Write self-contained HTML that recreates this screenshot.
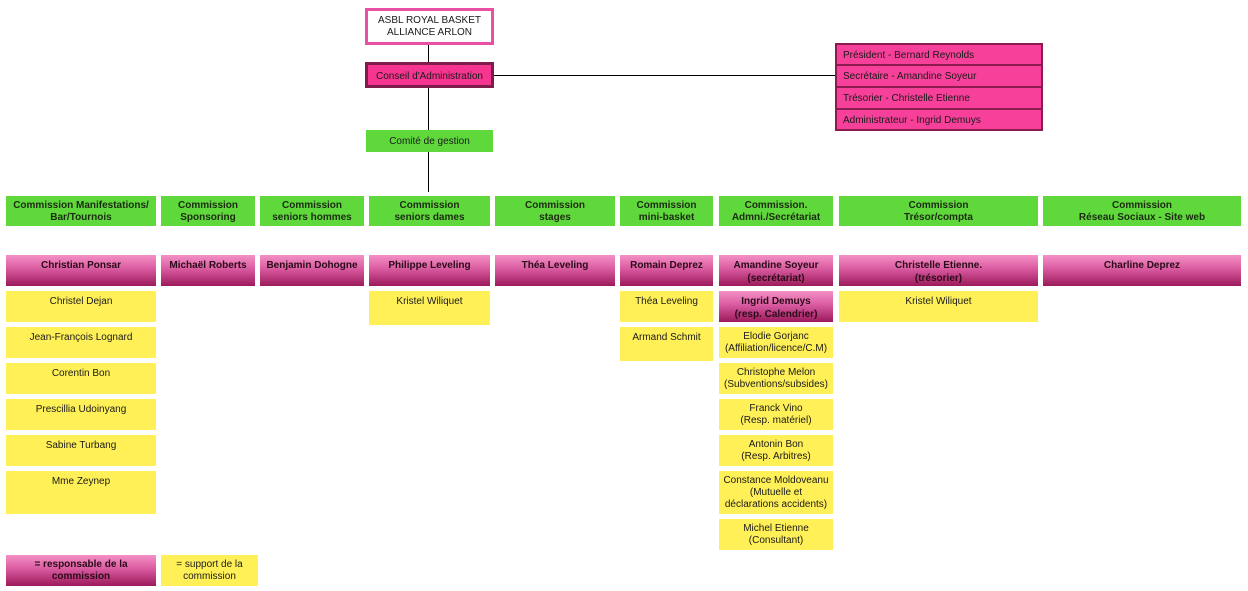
<!DOCTYPE html>
<html><head><meta charset="utf-8"><style>
*{margin:0;padding:0;box-sizing:border-box}
html,body{width:1248px;height:591px;background:#fff;overflow:hidden}
body{position:relative;font-family:"Liberation Sans",Arial,sans-serif;color:#1a1a1a}
.b{position:absolute;text-align:center;font-size:10px}
.g{background:#5fd83c;font-weight:bold;line-height:12px;display:flex;align-items:center;justify-content:center;color:#1c2a12;padding-top:1px}
.p{background:linear-gradient(#f491c5,#d95aa0 45%,#9c1a5b);font-weight:bold;line-height:13px;padding-top:4px;color:#2a0a18}
.y{background:#fff058;line-height:12px;padding-top:5px}
.ln{position:absolute;background:#000}
.bd{position:absolute;left:843px;font-size:10px;line-height:20px}
</style></head><body>
<!-- connectors -->
<div class="ln" style="left:428px;top:44px;width:1px;height:20px"></div>
<div class="ln" style="left:428px;top:88px;width:1px;height:42px"></div>
<div class="ln" style="left:428px;top:152px;width:1px;height:40px"></div>
<div class="ln" style="left:494px;top:75px;width:342px;height:1px"></div>

<div class="b" style="left:365px;top:8px;width:129px;height:37px;border:3px solid #e94fa3;background:#fff;line-height:12px;padding-top:4px">ASBL ROYAL BASKET<br>ALLIANCE ARLON</div>
<div class="b" style="left:365px;top:62px;width:129px;height:26px;border:3px solid #7e1d4c;background:#f5358f;line-height:20px;padding-top:2px">Conseil d'Administration</div>
<div class="b" style="left:366px;top:130px;width:127px;height:22px;background:#5fd83c;line-height:22px;padding-top:1px">Comité de gestion</div>

<!-- board -->
<div style="position:absolute;left:835px;top:43px;width:208px;height:88px;background:#8a1c50"></div>
<div style="position:absolute;left:837px;top:45px;width:204px;height:19px;background:#f7409a"></div>
<div style="position:absolute;left:837px;top:66px;width:204px;height:20px;background:#f7409a"></div>
<div style="position:absolute;left:837px;top:88px;width:204px;height:20px;background:#f7409a"></div>
<div style="position:absolute;left:837px;top:110px;width:204px;height:19px;background:#f7409a"></div>
<div class="bd" style="top:46px">Président - Bernard Reynolds</div>
<div class="bd" style="top:67px">Secrétaire - Amandine Soyeur</div>
<div class="bd" style="top:89px">Trésorier - Christelle Etienne</div>
<div class="bd" style="top:111px">Administrateur - Ingrid Demuys</div>

<!-- commissions -->
<div class="b g" style="left:6px;top:196px;width:150px;height:30px">Commission Manifestations/<br>Bar/Tournois</div>
<div class="b g" style="left:161px;top:196px;width:94px;height:30px">Commission<br>Sponsoring</div>
<div class="b g" style="left:260px;top:196px;width:104px;height:30px">Commission<br>seniors hommes</div>
<div class="b g" style="left:369px;top:196px;width:121px;height:30px">Commission<br>seniors dames</div>
<div class="b g" style="left:495px;top:196px;width:120px;height:30px">Commission<br>stages</div>
<div class="b g" style="left:620px;top:196px;width:93px;height:30px">Commission<br>mini-basket</div>
<div class="b g" style="left:719px;top:196px;width:114px;height:30px">Commission.<br>Admni./Secrétariat</div>
<div class="b g" style="left:839px;top:196px;width:199px;height:30px">Commission<br>Trésor/compta</div>
<div class="b g" style="left:1043px;top:196px;width:198px;height:30px">Commission<br>Réseau Sociaux - Site web</div>

<!-- responsables -->
<div class="b p" style="left:6px;top:255px;width:150px;height:31px">Christian Ponsar</div>
<div class="b p" style="left:161px;top:255px;width:94px;height:31px">Michaël Roberts</div>
<div class="b p" style="left:260px;top:255px;width:104px;height:31px">Benjamin Dohogne</div>
<div class="b p" style="left:369px;top:255px;width:121px;height:31px">Philippe Leveling</div>
<div class="b p" style="left:495px;top:255px;width:120px;height:31px">Théa Leveling</div>
<div class="b p" style="left:620px;top:255px;width:93px;height:31px">Romain Deprez</div>
<div class="b p" style="left:719px;top:255px;width:114px;height:31px">Amandine Soyeur<br>(secrétariat)</div>
<div class="b p" style="left:839px;top:255px;width:199px;height:31px">Christelle Etienne.<br>(trésorier)</div>
<div class="b p" style="left:1043px;top:255px;width:198px;height:31px">Charline Deprez</div>

<!-- col1 supports -->
<div class="b y" style="left:6px;top:291px;width:150px;height:31px">Christel Dejan</div>
<div class="b y" style="left:6px;top:327px;width:150px;height:31px">Jean-François Lognard</div>
<div class="b y" style="left:6px;top:363px;width:150px;height:31px">Corentin Bon</div>
<div class="b y" style="left:6px;top:399px;width:150px;height:31px">Prescillia Udoinyang</div>
<div class="b y" style="left:6px;top:435px;width:150px;height:31px">Sabine Turbang</div>
<div class="b y" style="left:6px;top:471px;width:150px;height:43px">Mme Zeynep</div>

<!-- col4 -->
<div class="b y" style="left:369px;top:291px;width:121px;height:34px">Kristel Wiliquet</div>

<!-- col6 -->
<div class="b y" style="left:620px;top:291px;width:93px;height:31px">Théa Leveling</div>
<div class="b y" style="left:620px;top:327px;width:93px;height:34px">Armand Schmit</div>

<!-- col7 -->
<div class="b p" style="left:719px;top:291px;width:114px;height:31px">Ingrid Demuys<br>(resp. Calendrier)</div>
<div class="b y" style="left:719px;top:327px;width:114px;height:31px;padding-top:4px">Elodie Gorjanc<br>(Affiliation/licence/C.M)</div>
<div class="b y" style="left:719px;top:363px;width:114px;height:31px;padding-top:4px">Christophe Melon<br>(Subventions/subsides)</div>
<div class="b y" style="left:719px;top:399px;width:114px;height:31px;padding-top:4px">Franck Vino<br>(Resp. matériel)</div>
<div class="b y" style="left:719px;top:435px;width:114px;height:31px;padding-top:4px">Antonin Bon<br>(Resp. Arbitres)</div>
<div class="b y" style="left:719px;top:471px;width:114px;height:43px;padding-top:4px">Constance Moldoveanu<br>(Mutuelle et<br>déclarations accidents)</div>
<div class="b y" style="left:719px;top:519px;width:114px;height:31px;padding-top:4px">Michel Etienne<br>(Consultant)</div>

<!-- col8 -->
<div class="b y" style="left:839px;top:291px;width:199px;height:31px">Kristel Wiliquet</div>

<!-- legend -->
<div class="b p" style="left:6px;top:555px;width:150px;height:31px;line-height:12px">= responsable de la<br>commission</div>
<div class="b y" style="left:161px;top:555px;width:97px;height:31px;padding-top:4px">= support de la<br>commission</div>
</body></html>
